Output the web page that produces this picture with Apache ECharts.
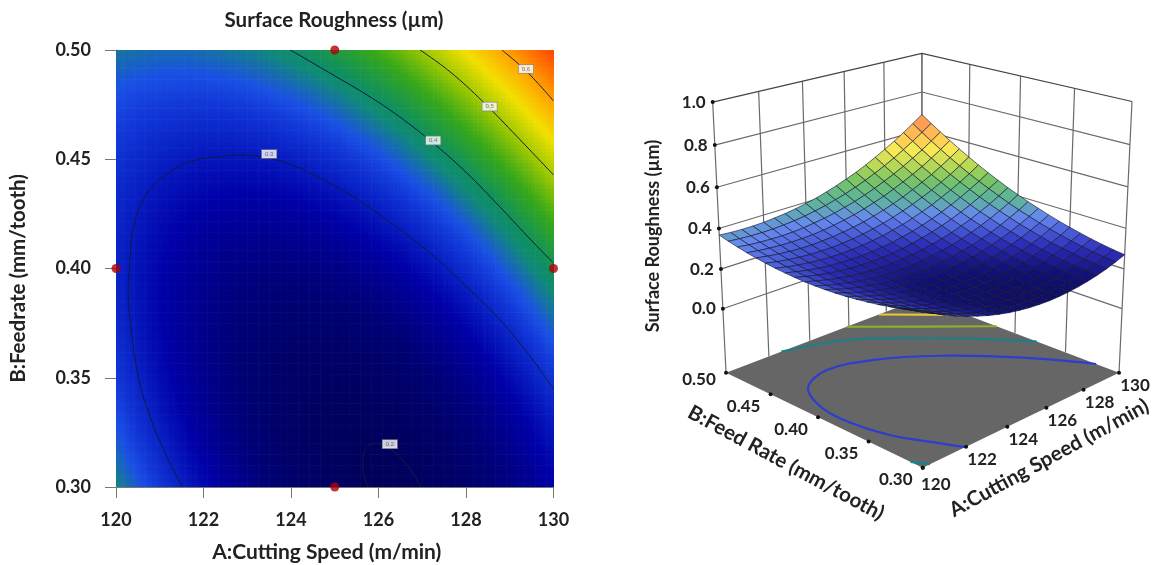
<!DOCTYPE html>
<html><head><meta charset="utf-8"><style>html,body{margin:0;padding:0;background:#fff}#c{width:1152px;height:565px;filter:blur(.45px)}</style>
<script src="https://cdn.jsdelivr.net/npm/echarts@6/dist/echarts.min.js"></script></head>
<body><div id="c"></div>
<script>
const speedLevels=[120,120.5,121,121.5,122,122.5,123,123.5,124,124.5,125,125.5,126,126.5,127,127.5,128,128.5,129,129.5,130];
const feedLevels=[0.30,0.31,0.32,0.33,0.34,0.35,0.36,0.37,0.38,0.39,0.40,0.41,0.42,0.43,0.44,0.45,0.46,0.47,0.48,0.49,0.50];
// surface roughness, in thousandths of a micrometre; one row per feed level
const roughnessMilli=[
[380,351,324,300,279,260,243,229,217,208,201,197,195,196,199,205,213,223,236,252,270],
[366,338,313,290,270,252,236,223,213,204,199,195,195,196,201,207,216,228,242,258,277],
[354,327,303,281,262,245,231,219,209,202,198,196,196,199,204,211,221,234,249,266,286],
[343,317,294,274,256,240,227,216,208,202,198,197,199,202,208,217,228,241,257,275,296],
[333,309,287,268,251,237,224,215,208,203,200,200,202,207,214,224,236,250,267,286,308],
[325,302,281,263,248,234,223,215,209,205,204,204,208,214,222,232,245,260,278,298,321],
[318,296,277,260,246,233,224,216,211,209,208,210,215,221,231,242,256,272,291,312,335],
[312,292,274,258,245,234,225,219,215,214,214,217,223,231,241,253,268,285,305,326,351],
[308,289,272,258,246,236,228,223,220,220,222,226,232,241,252,266,281,300,320,343,368],
[305,287,272,259,248,239,233,229,227,228,231,236,243,253,265,280,296,315,337,360,386],
[304,287,273,261,251,244,239,236,235,237,241,247,256,267,280,295,313,333,355,379,406],
[304,289,276,265,256,250,246,244,245,248,253,260,270,281,295,312,330,351,374,400,427],
[306,292,280,270,263,258,255,254,256,260,266,274,285,298,313,330,349,371,395,422,450],
[309,296,285,277,271,267,265,265,268,273,280,290,301,315,331,349,370,393,418,445,474],
[313,301,292,285,280,277,276,278,282,288,296,307,319,334,351,370,392,415,441,469,500],
[319,308,300,294,290,289,289,292,297,304,314,325,339,355,373,393,415,440,466,495,527],
[326,317,310,305,302,302,304,308,314,322,332,345,359,376,395,417,440,465,493,523,555],
[334,326,321,317,316,316,319,324,332,341,352,366,382,399,420,442,466,492,521,552,585],
[344,337,333,331,330,332,336,343,351,361,374,388,405,424,445,468,493,521,550,582,616],
[355,350,347,346,347,350,355,362,372,383,397,412,430,450,472,496,522,551,581,614,648],
[368,364,362,362,364,369,375,383,394,406,421,438,457,477,500,526,553,582,613,647,682]];
const roughness=roughnessMilli.map(r=>r.map(v=>v/1000));
const colorValues=[0.19,0.23,0.27,0.30,0.325,0.345,0.365,0.383,0.40,0.45,0.50,0.55,0.60,0.685];
const colorHexes=['#000058','#000078','#0000a8','#0820c4','#1238d8','#1a50e4','#1670a8','#108a78','#0f8f60','#35a81a','#9cc800','#f2e000','#ffa800','#ff4000'];
const contour02=[[125.76,.3],[125.64,.3093],[125.69,.3169],[125.92,.32],[126.2,.318],[126.49,.3137],[126.79,.3064],[126.96,.3]];
const contour03=[[121.52,.3],[121.16,.3139],[120.78,.3322],[120.51,.3505],[120.32,.3764],[120.28,.3888],[120.32,.4039],[120.39,.4176],[120.62,.4314],[121.07,.4419],[121.69,.4489],[122.38,.4512],[122.83,.4519],[123.36,.4509],[123.91,.4483],[124.66,.4414],[125.42,.4329],[126.19,.4222],[126.95,.4108],[127.41,.4031],[128.09,.3902],[128.78,.3764],[129.53,.3581],[130,.3448]];
const contour04=[[123.98,.5],[124.21,.4974],[124.96,.4886],[125.74,.4794],[126.49,.4693],[127.25,.4574],[128.02,.4437],[128.78,.4281],[129.53,.4121],[130,.4025]];
const contour05=[[126.95,.5],[127.63,.4901],[128.39,.4763],[129.17,.4603],[130,.4428]];
const contour06=[[128.82,.5],[129.39,.4901],[130,.4767]];
const contourLabels=[[126.26,.3196,'0.2'],[123.5,.4524,'0.3'],[127.25,.4586,'0.4'],[128.54,.4741,'0.5'],[129.37,.4913,'0.6']];
const designPoints=[[125,.5],[120,.4],[130,.4],[125,.3]];
const floorBlue=[[130,.321],[128.54,.3658],[126.5,.4116],[124.5,.441],[122.72,.452],[121.33,.4406],[120.67,.4165],[120.47,.388],[120.82,.3468],[121.57,.3153],[121.95,.3]];
const floorTeal=[[122.6,.5],[125.04,.4814],[127.19,.4429],[128.99,.4041],[130,.378]];
const floorTealCorner=[[120,.311],[120.33,.3]];
const floorGreen=[[125.89,.5],[127.91,.4596],[130,.419]];
const floorYellow=[[127.6,.5],[130,.4505]];
const floorOrange=[[128.95,.5],[130,.477]];
const speedTicks=[120,122,124,126,128,130];
const feedTicks=[0.30,0.35,0.40,0.45,0.50];
const roughTicks=[0,0.2,0.4,0.6,0.8,1.0];
const zFloor=-0.33, zTop=1.0;

function hexRgb(h){return [1,3,5].map(k=>parseInt(h.substr(k,2),16));}
const rgbStops=colorHexes.map(hexRgb);
function colorOf(z,mix){let n=colorValues.length,r;
  if(z<=colorValues[0])r=rgbStops[0];else if(z>=colorValues[n-1])r=rgbStops[n-1];
  else{let k=0;while(z>colorValues[k+1])k++;const t=(z-colorValues[k])/(colorValues[k+1]-colorValues[k]);r=rgbStops[k].map((c,m)=>c+(rgbStops[k+1][m]-c)*t);}
  if(mix)r=r.map(c=>c+(255-c)*mix);
  return 'rgb('+r.map(Math.round).join(',')+')';}
function project(A,B,z){const u=(A-120)/10,v=(B-.3)/.2,h=(z-zFloor)/(zTop-zFloor);
  const w=1+.135*u+.137*v-.0713*h;
  return [(922.7+347.4*u-97.2*v-66*h)/w,(467.7-44.7*u-43.9*v-315*h)/w];}
const CELLS=speedLevels.length-1;
const cells=[];for(let j=0;j<CELLS;j++)for(let i=0;i<CELLS;i++)cells.push([speedLevels[i],feedLevels[j],i,j]);
const SUB=6;
function heatItem(p,api){const i=api.value(2),j=api.value(3),kids=[];
  const a0=speedLevels[i],a1=speedLevels[i+1],b0=feedLevels[j],b1=feedLevels[j+1];
  const q00=roughness[j][i],q10=roughness[j][i+1],q01=roughness[j+1][i],q11=roughness[j+1][i+1];
  for(let m=0;m<SUB;m++)for(let n=0;n<SUB;n++){
    const s=(m+.5)/SUB,t=(n+.5)/SUB;
    const z=q00*(1-s)*(1-t)+q10*s*(1-t)+q01*(1-s)*t+q11*s*t;
    const p0=api.coord([a0+(a1-a0)*m/SUB,b0+(b1-b0)*(n+1)/SUB]),p1=api.coord([a0+(a1-a0)*(m+1)/SUB,b0+(b1-b0)*n/SUB]);
    kids.push({type:'rect',shape:{x:p0[0],y:p0[1],width:p1[0]-p0[0]+.6,height:p1[1]-p0[1]+.6},style:{fill:colorOf(z)}});
  }
  return {type:'group',children:kids};}
const surfaceCells=cells.slice().sort((a,b)=>(b[2]+b[3])-(a[2]+a[3]));
function surfaceItem(p,api){const i=api.value(2),j=api.value(3);
  const pts=[[i,j],[i+1,j],[i+1,j+1],[i,j+1]].map(q=>project(speedLevels[q[0]],feedLevels[q[1]],roughness[q[1]][q[0]]));
  const z=(roughness[j][i]+roughness[j][i+1]+roughness[j+1][i]+roughness[j+1][i+1])/4;
  const mix=Math.max(.06,Math.min(.33,(z-.19)*2.2));
  return {type:'polygon',shape:{points:pts},style:{fill:colorOf(z,mix),stroke:'rgba(20,20,45,.62)',lineWidth:1}};}
function line3(a,b,color,w){return {type:'polyline',shape:{points:[a,b]},style:{stroke:color,lineWidth:w,fill:'none'}};}
function wallsItem(){const kids=[],g='#6a6a6a';
  const L=z=>project(120,.5,z),B=z=>project(130,.5,z),R=z=>project(130,.3,z);
  speedTicks.forEach(a=>{kids.push(line3(project(a,.5,zFloor),project(a,.5,zTop),g,1.2));});
  feedTicks.forEach(b=>{kids.push(line3(project(130,b,zFloor),project(130,b,zTop),g,1.2));});
  roughTicks.forEach(z=>{kids.push({type:'polyline',shape:{points:[L(z),B(z),R(z)]},style:{stroke:z===1?'#444':g,lineWidth:1.2,fill:'none'}});});
  return {type:'group',children:kids};}
function floorItem(){const kids=[];
  kids.push({type:'polygon',shape:{points:[project(120,.3,zFloor),project(130,.3,zFloor),project(130,.5,zFloor),project(120,.5,zFloor)]},style:{fill:'#666666'}});
  [[floorOrange,'#e8a030'],[floorYellow,'#e8c830'],[floorGreen,'#8db12a'],[floorTeal,'#1e7f8c'],[floorTealCorner,'#1e7f8c'],[floorBlue,'#2a3fd0']].forEach(c=>{
    kids.push({type:'polyline',shape:{points:c[0].map(q=>project(q[0],q[1],zFloor)),smooth:c[0].length>4?.35:0},style:{stroke:c[1],lineWidth:2.2,fill:'none'}});});
  return {type:'group',children:kids};}
const tickFont='bold 17px Lato';
function dot(p){return {type:'circle',shape:{cx:p[0],cy:p[1],r:2},style:{fill:'#111'}};}
function txt(p,dx,dy,s){return {type:'text',style:{x:p[0]+dx,y:p[1]+dy,text:s,font:tickFont,fill:'#222',align:'center',verticalAlign:'middle'}};}
function ticksItem(){const kids=[];
  roughTicks.forEach(z=>{const p=project(120,.5,z);kids.push(dot(p));kids.push(txt(p,-19,0,z.toFixed(1)));});
  feedTicks.forEach(b=>{const p=project(120,b,zFloor);kids.push(dot(p));kids.push(txt(p,-27,b===.5?7:12,b.toFixed(2)));});
  speedTicks.forEach(a=>{const p=project(a,.3,zFloor);kids.push(dot(p));kids.push(txt(p,a===120?13:16,a===120?17:13,String(a)));});
  return {type:'group',children:kids};}
const nameText=(x,y,rot,s,size)=>({type:'text',x:x,y:y,rotation:rot,silent:true,style:{text:s,font:'bold '+size+'px Lato',fill:'#222',align:'center',verticalAlign:'middle'}});
const contourSeries=[contour02,contour03,contour04,contour05,contour06].map(d=>({type:'line',data:d,smooth:.4,showSymbol:false,symbol:'none',lineStyle:{color:'#101c40',width:1},z:3,silent:true}));
const axisText={fontFamily:'Lato',fontWeight:'bold',fontSize:18,color:'#222'};
const chart=echarts.init(document.getElementById('c'),null,{renderer:'canvas'});
chart.setOption({animation:false,backgroundColor:'#fff',
 title:{text:'Surface Roughness (µm)',left:329,top:5,textAlign:'center',textStyle:{fontFamily:'Lato',fontWeight:'bold',fontSize:20.5,color:'#222'}},
 grid:{left:116,top:50,width:437.5,height:437,containLabel:false,outerBoundsMode:'none'},
 xAxis:{type:'value',min:120,max:130,interval:2,name:'A:Cutting Speed (m/min)',nameLocation:'middle',nameGap:55,nameTextStyle:{fontFamily:'Lato',fontWeight:'bold',fontSize:21,color:'#222',padding:[0,16,0,0]},
   axisLine:{lineStyle:{color:'#777'}},axisTick:{length:11,lineStyle:{color:'#777'}},splitLine:{show:false},axisLabel:{...axisText,margin:24}},
 yAxis:{type:'value',min:0.30,max:0.50,interval:0.05,name:'B:Feedrate (mm/tooth)',nameLocation:'middle',nameGap:87,nameTextStyle:{fontFamily:'Lato',fontWeight:'bold',fontSize:20.5,color:'#222',padding:[0,20,0,0]},
   axisLine:{lineStyle:{color:'#777'}},axisTick:{length:11,lineStyle:{color:'#777'}},splitLine:{show:false},axisLabel:{...axisText,margin:25,formatter:v=>v.toFixed(2)}},
 graphic:[nameText(786,463,-.494,'B:Feed Rate (mm/tooth)',20.5),nameText(1049,458,.5,'A:Cutting Speed (m/min)',20.5),nameText(653,236,Math.PI/2,'Surface Roughness (µm)',18)],
 series:[
  {type:'custom',silent:true,data:cells,renderItem:heatItem,z:1,clip:true,animation:false},
  ...contourSeries,
  {type:'scatter',silent:true,data:contourLabels,symbolSize:1,z:5,itemStyle:{color:'transparent'},label:{show:true,position:'inside',formatter:p=>p.data[2],fontSize:6,fontFamily:'Liberation Sans',color:'#555',backgroundColor:'#fff',borderColor:'#8a8a8a',borderWidth:.8,padding:[1,3]}},
  {type:'scatter',silent:true,data:designPoints,symbolSize:9,z:6,clip:false,itemStyle:{color:'#b00008'}},
  {type:'custom',coordinateSystem:'none',silent:true,data:[[0]],renderItem:wallsItem,z:1},
  {type:'custom',coordinateSystem:'none',silent:true,data:[[0]],renderItem:floorItem,z:2},
  {type:'custom',coordinateSystem:'none',silent:true,data:[[0]],renderItem:ticksItem,z:3},
  {type:'custom',coordinateSystem:'none',silent:true,data:surfaceCells,renderItem:surfaceItem,z:4}
 ]});
</script></body></html>
